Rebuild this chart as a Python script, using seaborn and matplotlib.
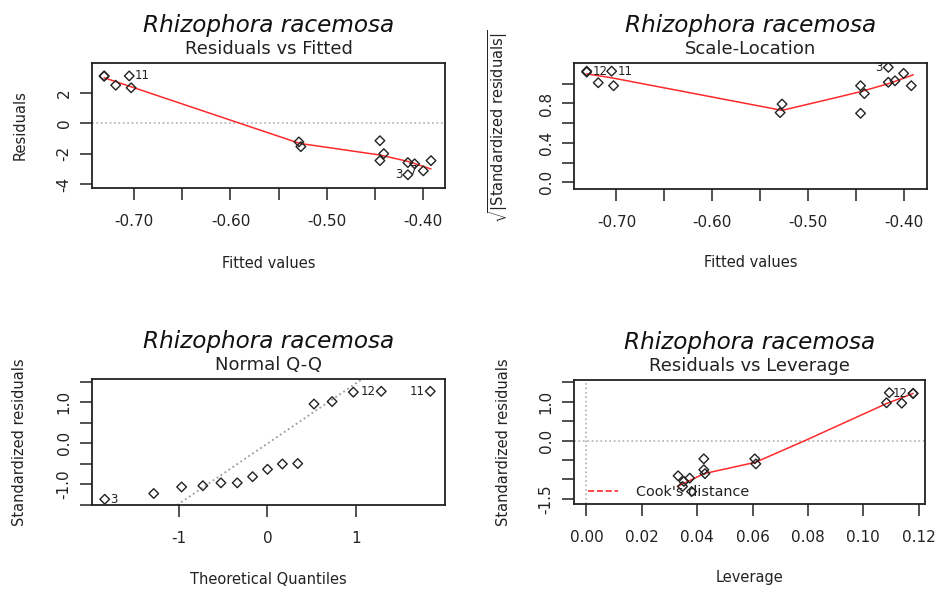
import matplotlib
matplotlib.use("Agg")
import numpy as np
import pandas as pd
import matplotlib.pyplot as plt
import seaborn as sns
from statistics import NormalDist
from matplotlib.lines import Line2D

fitted = [-0.731, -0.731, -0.719, -0.705, -0.703, -0.529, -0.527, -0.445,
          -0.445, -0.441, -0.416, -0.409, -0.416, -0.400, -0.392]
residuals = [3.12, 3.10, 2.51, 3.12, 2.34, -1.22, -1.53, -1.14,
             -2.45, -1.99, -2.58, -2.66, -3.38, -3.12, -2.45]
std_resid = [1.27, 1.25, 1.02, 1.27, 0.96, -0.50, -0.63, -0.49,
             -0.96, -0.81, -1.03, -1.06, -1.36, -1.22, -0.96]
leverage = [0.1180, 0.1180, 0.1139, 0.1094, 0.1084, 0.0608, 0.0612, 0.0424,
            0.0428, 0.0424, 0.0373, 0.0352, 0.0380, 0.0347, 0.0331]
lev_resid = [1.21, 1.21, 0.96, 1.23, 0.97, -0.47, -0.60, -0.47,
             -0.85, -0.75, -0.966, -1.05, -1.31, -1.18, -0.906]

# point labels per panel ('' = none)
labels_rvf = ['', '', '', '11', '', '', '', '', '', '', '', '', '3', '7', '']
labels_sl = ['12', '', '', '11', '', '', '', '', '', '', '', '', '3', '', '']
labels_lev = ['12', '', '', '', '', '', '', '', '', '', '', '', '', '', '']
# Q-Q labels by rank of sorted residual
qq_labels = {0: '3', 13: '12', 14: '11'}

# smoother lines
smooth_rvf_x = [-0.731, -0.705, -0.528, -0.445, -0.416, -0.392]
smooth_rvf_y = [3.00, 2.45, -1.32, -2.08, -2.50, -3.00]
smooth_sl_x = [-0.731, -0.705, -0.527, -0.466, -0.445, -0.416, -0.390]
smooth_sl_y = [1.10, 1.06, 0.73, 0.87, 0.92, 1.00, 1.09]
smooth_lev_x = [0.0328, 0.0425, 0.0610, 0.0790, 0.1084, 0.1180]
smooth_lev_y = [-1.18, -0.85, -0.56, 0.00, 0.95, 1.21]

species = "Rhizophora racemosa"
fit_ticks = [-0.70, -0.65, -0.60, -0.55, -0.50, -0.45, -0.40]
fit_ticklabels = ['-0.70', '', '-0.60', '', '-0.50', '', '-0.40']
rvf_yticks = [-4, -2, 0, 2]
rvf_yticklabels = ['-4', '-2', '0', '2']
sl_yticks = [0.0, 0.2, 0.4, 0.6, 0.8, 1.0]
sl_yticklabels = ['0.0', '', '0.4', '', '0.8', '']
qq_xticks = [-1, 0, 1]
qq_yticks = [-1.5, -1.0, -0.5, 0.0, 0.5, 1.0, 1.5]
qq_yticklabels = ['', '-1.0', '', '0.0', '', '1.0', '']
lev_xticks = [0.00, 0.02, 0.04, 0.06, 0.08, 0.10, 0.12]
lev_xticklabels = ['0.00', '0.02', '0.04', '0.06', '0.08', '0.10', '0.12']
lev_yticks = [-1.5, -1.0, -0.5, 0.0, 0.5, 1.0, 1.5]
lev_yticklabels = ['-1.5', '', '', '0.0', '', '1.0', '']

sns.set_theme(style="ticks")
plt.rcParams['font.family'] = ['DejaVu Sans']
plt.rcParams['axes.unicode_minus'] = False
plt.rcParams['mathtext.fontset'] = 'dejavusans'

INK = '#222222'
W, H = 935, 591


def box(l, t, r, b):
    return [l / W, 1 - b / H, (r - l) / W, (b - t) / H]


fig = plt.figure(figsize=(9.35, 5.91), dpi=100)
ax1 = fig.add_axes(box(92, 63, 445, 188))
ax2 = fig.add_axes(box(574, 63, 927, 189))
ax3 = fig.add_axes(box(92, 379, 445, 505))
ax4 = fig.add_axes(box(574, 380, 925, 504))


def points(ax, x, y):
    sns.scatterplot(x=x, y=y, ax=ax, marker='D', s=24, facecolors='none',
                    edgecolors=INK, linewidth=1.0, zorder=3)


def smooth(ax, x, y):
    sns.lineplot(x=x, y=y, ax=ax, color='#ff2a2a', lw=1.1, sort=False,
                 estimator=None, zorder=2)


def label_points(ax, x, y, labs, xmid):
    for xi, yi, t in zip(x, y, labs):
        if not t:
            continue
        right = xi < xmid
        ax.annotate(t, xy=(xi, yi), xytext=(4 if right else -4, 0),
                    textcoords='offset points', ha='left' if right else 'right',
                    va='center', fontsize=8.5, color=INK)


def style(ax, xlim, ylim, xt, xtl, yt, ytl, sub, xlab, ylab, ylab_x, xlab_y):
    ax.set_xlim(*xlim)
    ax.set_ylim(*ylim)
    ax.set_xticks(xt)
    ax.set_xticklabels(xtl)
    ax.set_yticks(yt)
    ax.set_yticklabels(ytl)
    ax.tick_params(axis='both', direction='out', length=8.6, width=1.1,
                   color=INK, labelsize=11, labelcolor=INK)
    ax.tick_params(axis='x', pad=10)
    ax.tick_params(axis='y', pad=6)
    for lbl in ax.get_yticklabels():
        lbl.set_rotation(90)
        lbl.set_va('center')
        lbl.set_ha('right')
    for s in ax.spines.values():
        s.set_color(INK)
        s.set_linewidth(1.3)
    ax.set_xlabel(xlab, fontsize=10.5, color=INK)
    ax.set_ylabel(ylab, fontsize=10.5, color=INK)
    ax.xaxis.label.set_va('baseline')
    ax.xaxis.set_label_coords(0.5, xlab_y)
    ax.yaxis.label.set_va('center')
    ax.yaxis.set_label_coords(ylab_x, 0.5)
    ax.annotate(species, xy=(0.5, 1), xycoords='axes fraction', xytext=(0, 22.5),
                textcoords='offset points', ha='center', va='baseline',
                fontsize=16.7, fontstyle='italic', color='#111111')
    ax.annotate(sub, xy=(0.5, 1), xycoords='axes fraction', xytext=(0, 6.8),
                textcoords='offset points', ha='center', va='baseline',
                fontsize=13, color=INK)


# Residuals vs Fitted
ax1.axhline(0, color='#b0b0b0', ls=':', lw=1.2, zorder=1)
smooth(ax1, smooth_rvf_x, smooth_rvf_y)
points(ax1, fitted, residuals)
label_points(ax1, fitted, residuals, labels_rvf, -0.56)
style(ax1, (-0.7436, -0.3775), (-4.25, 3.97), fit_ticks, fit_ticklabels,
      rvf_yticks, rvf_yticklabels, "Residuals vs Fitted", "Fitted values",
      "Residuals", -0.204, -0.64)

# Scale-Location
sl_y = np.sqrt(np.abs(std_resid))
smooth(ax2, smooth_sl_x, smooth_sl_y)
points(ax2, fitted, sl_y)
label_points(ax2, fitted, sl_y, labels_sl, -0.56)
style(ax2, (-0.7443, -0.3756), (-0.067, 1.21), fit_ticks, fit_ticklabels,
      sl_yticks, sl_yticklabels, "Scale-Location", "Fitted values",
      r'$\sqrt{|\mathrm{Standardized\ residuals}|}$', -0.215, -0.617)

# Normal Q-Q
n = len(std_resid)
qq_sample = np.sort(std_resid)
qq_theory = [NormalDist().inv_cdf((i + 0.5) / n) for i in range(n)]
yq = np.quantile(qq_sample, [0.25, 0.75])
xq = [NormalDist().inv_cdf(0.25), NormalDist().inv_cdf(0.75)]
slope = (yq[1] - yq[0]) / (xq[1] - xq[0])
intercept = yq[0] - slope * xq[0]
ax3.axline((0, intercept), slope=slope, color='#9a9a9a', ls=':', lw=1.3, zorder=1)
points(ax3, qq_theory, qq_sample)
label_points(ax3, qq_theory, qq_sample,
             [qq_labels.get(i, '') for i in range(n)], 0.0)
style(ax3, (-1.977, 2.0), (-1.47, 1.57), qq_xticks, ['-1', '0', '1'],
      qq_yticks, qq_yticklabels, "Normal Q-Q", "Theoretical Quantiles",
      "Standardized residuals", -0.204, -0.627)

# Residuals vs Leverage
ax4.axhline(0, color='#b0b0b0', ls=':', lw=1.2, zorder=1)
ax4.axvline(0, color='#b0b0b0', ls=':', lw=1.2, zorder=1)
smooth(ax4, smooth_lev_x, smooth_lev_y)
points(ax4, leverage, lev_resid)
label_points(ax4, leverage, lev_resid, labels_lev, 0.06)
style(ax4, (-0.0045, 0.1223), (-1.63, 1.555), lev_xticks, lev_xticklabels,
      lev_yticks, lev_yticklabels, "Residuals vs Leverage", "Leverage",
      "Standardized residuals", -0.202, -0.627)
cook = Line2D([], [], color='#ff2a2a', ls='--', lw=1.2)
ax4.legend([cook], ["Cook's distance"], loc='center left',
           bbox_to_anchor=(0.040, 0.097), frameon=False, fontsize=10.4,
           handlelength=2.1, handletextpad=1.2, borderpad=0, borderaxespad=0,
           labelcolor=INK)

fig.savefig("out.png", dpi=100)
